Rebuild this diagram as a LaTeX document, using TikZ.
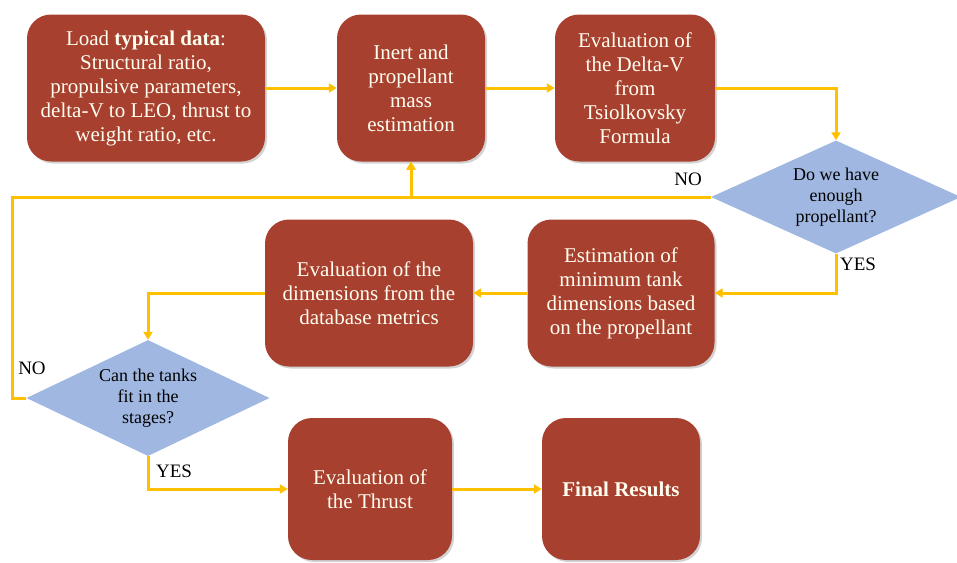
\documentclass[tikz,border=0pt]{standalone}
\usepackage{fontspec}
\setmainfont{Liberation Serif}
\usetikzlibrary{shapes.geometric,arrows.meta,shadows}

\definecolor{boxred}{RGB}{168,64,47}
\definecolor{decblue}{RGB}{160,184,225}
\definecolor{flowgold}{RGB}{255,192,0}

\begin{document}
\begin{tikzpicture}[x=1pt,y=-1pt,
    stepbox/.style={draw=none, fill=boxred, rounded corners=24pt, text=white!94!yellow,
        align=center, font=\fontsize{21}{24}\selectfont, inner sep=1pt,
        drop shadow={shadow xshift=2pt, shadow yshift=-2pt, opacity=0.35}},
    decision/.style={diamond, draw=none, fill=decblue, aspect=2.2, inner sep=0pt,
        align=center, font=\fontsize{18}{21}\selectfont},
    flow/.style={draw=flowgold, line width=3pt, -{Triangle[length=8pt,width=9pt]}},
    answer/.style={font=\fontsize{19}{20}\selectfont}
]
    \useasboundingbox (0,0) rectangle (957,562);

    \node[stepbox, minimum width=238pt, minimum height=147pt] (load) at (146,88)
        {Load \textbf{typical data}:\\ Structural ratio,\\ propulsive parameters,\\ delta-V to LEO, thrust to\\ weight ratio, etc.};
    \node[stepbox, minimum width=148pt, minimum height=147pt] (mass) at (411,88)
        {Inert and\\ propellant\\ mass\\ estimation};
    \node[stepbox, minimum width=160pt, minimum height=147pt] (dv) at (635,88)
        {Evaluation of\\ the Delta-V\\ from\\ Tsiolkovsky\\ Formula};
    \node[decision, minimum width=250pt, minimum height=113pt] (enough) at (836,197)
        {Do we have\\ enough\\ propellant?};
    \node[stepbox, minimum width=187pt, minimum height=147pt] (tank) at (621,293)
        {Estimation of\\ minimum tank\\ dimensions based\\ on the propellant};
    \node[stepbox, minimum width=208pt, minimum height=147pt] (metrics) at (369,293)
        {Evaluation of the\\ dimensions from the\\ database metrics};
    \node[decision, minimum width=243pt, minimum height=116pt] (fit) at (148,398)
        {Can the tanks\\ fit in the\\ stages?};
    \node[stepbox, minimum width=164pt, minimum height=142pt] (thrust) at (370,489)
        {Evaluation of\\ the Thrust};
    \node[stepbox, minimum width=158pt, minimum height=142pt] (final) at (621,489)
        {\textbf{Final Results}};

    \coordinate (loopL) at (12,197);

    \draw[flow] (load) -- (mass);
    \draw[flow] (mass) -- (dv);
    \draw[flow] (dv.east) -| (enough.north);
    \draw[flow] (enough.west) -| (mass.south);
    \draw[flow] (fit.west) -| (loopL) -| (mass.south);
    \draw[flow] (enough.south) |- (tank.east);
    \draw[flow] (tank) -- (metrics);
    \draw[flow] (metrics.west) -| (fit.north);
    \draw[flow] (fit.south) |- (thrust.west);
    \draw[flow] (thrust) -- (final);

    \node[answer] (no1) at (688,179) {NO};
    \node[answer] (yes1) at (858,264) {YES};
    \node[answer] (no2) at (32,368) {NO};
    \node[answer] (yes2) at (174,471) {YES};
\end{tikzpicture}
\end{document}
